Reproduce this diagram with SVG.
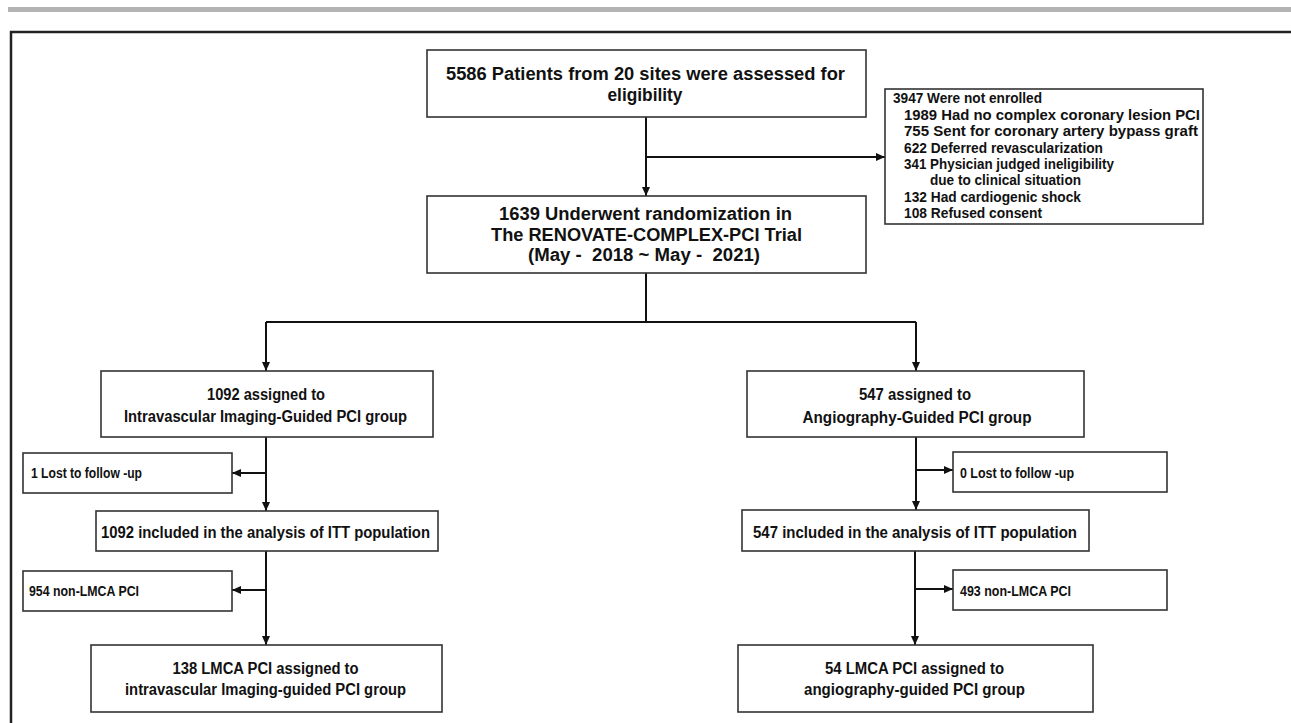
<svg xmlns="http://www.w3.org/2000/svg" width="1291" height="723" viewBox="0 0 1291 723">
<style>
.box{fill:#fff;stroke:#333;stroke-width:1.6}
.t{font-family:"Liberation Sans",Arial,sans-serif;font-weight:bold;fill:#111}
.c{text-anchor:middle}
.f18{font-size:17.5px}
.f16{font-size:16px}
.f14{font-size:14px}
.f13{font-size:14.5px}
.ln{fill:none;stroke:#111;stroke-width:2}
</style>
<defs>
<marker id="ah" markerUnits="userSpaceOnUse" markerWidth="10" markerHeight="10" viewBox="0 0 10 10" refX="9" refY="5" orient="auto">
<path d="M0,1 L9,5 L0,9 Z" fill="#111"/>
</marker>
</defs>
<rect x="8" y="7" width="1283" height="5" fill="#b3b3b3"/>
<rect x="11" y="32" width="1300" height="720" fill="none" stroke="#222" stroke-width="2.5"/>

<g id="connectors">
<path class="ln" d="M646 117 V196" marker-end="url(#ah)"/>
<path class="ln" d="M646 157 H885" marker-end="url(#ah)"/>
<path class="ln" d="M646 273 V322 M266 322 H916"/>
<path class="ln" d="M266 322 V371" marker-end="url(#ah)"/>
<path class="ln" d="M916 322 V371" marker-end="url(#ah)"/>
<path class="ln" d="M266 437 V511" marker-end="url(#ah)"/>
<path class="ln" d="M266 473 H232" marker-end="url(#ah)"/>
<path class="ln" d="M916 437 V510" marker-end="url(#ah)"/>
<path class="ln" d="M916 470 H953" marker-end="url(#ah)"/>
<path class="ln" d="M266 551 V645" marker-end="url(#ah)"/>
<path class="ln" d="M266 590 H232" marker-end="url(#ah)"/>
<path class="ln" d="M915 551 V645" marker-end="url(#ah)"/>
<path class="ln" d="M915 589 H953" marker-end="url(#ah)"/>
</g>

<g id="assessed">
<rect class="box" x="427" y="50" width="439" height="67"/>
<text class="t c f18" x="645.5" y="80" textLength="399" lengthAdjust="spacingAndGlyphs">5586 Patients from 20 sites were assessed for</text>
<text class="t c f18" x="645" y="101" textLength="75" lengthAdjust="spacingAndGlyphs">eligibility</text>
</g>

<g id="excluded">
<rect class="box" x="885" y="89" width="318" height="135"/>
<text class="t f13" x="893" y="103.3" textLength="149" lengthAdjust="spacingAndGlyphs">3947 Were not enrolled</text>
<text class="t f13" x="904" y="119.7" textLength="296" lengthAdjust="spacingAndGlyphs">1989 Had no complex coronary lesion PCI</text>
<text class="t f13" x="904" y="136.1" textLength="294" lengthAdjust="spacingAndGlyphs">755 Sent for coronary artery bypass graft</text>
<text class="t f13" x="904" y="152.5" textLength="199" lengthAdjust="spacingAndGlyphs">622 Deferred revascularization</text>
<text class="t f13" x="904" y="168.9" textLength="210" lengthAdjust="spacingAndGlyphs">341 Physician judged ineligibility</text>
<text class="t f13" x="930" y="185.3" textLength="151" lengthAdjust="spacingAndGlyphs">due to clinical situation</text>
<text class="t f13" x="904" y="201.7" textLength="177" lengthAdjust="spacingAndGlyphs">132 Had cardiogenic shock</text>
<text class="t f13" x="904" y="218.1" textLength="138" lengthAdjust="spacingAndGlyphs">108 Refused consent</text>
</g>

<g id="randomized">
<rect class="box" x="427" y="196" width="439" height="77"/>
<text class="t c f18" x="645.5" y="220" textLength="293" lengthAdjust="spacingAndGlyphs">1639 Underwent randomization in</text>
<text class="t c f18" x="646.5" y="240.5" textLength="311" lengthAdjust="spacingAndGlyphs">The RENOVATE-COMPLEX-PCI Trial</text>
<text class="t c f18" x="644" y="261" textLength="232" lengthAdjust="spacingAndGlyphs" xml:space="preserve">(May -  2018 ~ May -  2021)</text>
</g>

<g id="ivi-assigned">
<rect class="box" x="101" y="371" width="332" height="66"/>
<text class="t c f16" x="266" y="400" textLength="118" lengthAdjust="spacingAndGlyphs">1092 assigned to</text>
<text class="t c f16" x="265.5" y="422" textLength="283" lengthAdjust="spacingAndGlyphs">Intravascular Imaging-Guided PCI group</text>
</g>

<g id="angio-assigned">
<rect class="box" x="747" y="371" width="337" height="66"/>
<text class="t c f16" x="915" y="400" textLength="112" lengthAdjust="spacingAndGlyphs">547 assigned to</text>
<text class="t c f16" x="917" y="422.5" textLength="229" lengthAdjust="spacingAndGlyphs">Angiography-Guided PCI group</text>
</g>

<g id="ivi-lost">
<rect class="box" x="23" y="453" width="209" height="40"/>
<text class="t f14" x="31" y="478" textLength="111" lengthAdjust="spacingAndGlyphs">1 Lost  to follow -up</text>
</g>

<g id="angio-lost">
<rect class="box" x="953" y="452" width="214" height="40"/>
<text class="t f14" x="960" y="478" textLength="114" lengthAdjust="spacingAndGlyphs">0 Lost  to follow -up</text>
</g>

<g id="ivi-itt">
<rect class="box" x="96" y="511" width="342" height="40"/>
<text class="t c f16" x="265.5" y="537.5" textLength="329" lengthAdjust="spacingAndGlyphs">1092 included in the analysis of ITT population</text>
</g>

<g id="angio-itt">
<rect class="box" x="742" y="510" width="347" height="41"/>
<text class="t c f16" x="915" y="537.5" textLength="324" lengthAdjust="spacingAndGlyphs">547 included in the analysis of ITT population</text>
</g>

<g id="ivi-nonlmca">
<rect class="box" x="23" y="571" width="209" height="40"/>
<text class="t f14" x="29" y="596" textLength="110" lengthAdjust="spacingAndGlyphs">954 non-LMCA  PCI</text>
</g>

<g id="angio-nonlmca">
<rect class="box" x="953" y="570" width="214" height="40"/>
<text class="t f14" x="960" y="596" textLength="111" lengthAdjust="spacingAndGlyphs">493 non-LMCA  PCI</text>
</g>

<g id="ivi-lmca">
<rect class="box" x="91" y="645" width="351" height="67"/>
<text class="t c f16" x="265.5" y="673.5" textLength="186" lengthAdjust="spacingAndGlyphs">138 LMCA PCI assigned to</text>
<text class="t c f16" x="265.5" y="695" textLength="281" lengthAdjust="spacingAndGlyphs">intravascular Imaging-guided PCI group</text>
</g>

<g id="angio-lmca">
<rect class="box" x="738" y="645" width="355" height="67"/>
<text class="t c f16" x="914.5" y="673.5" textLength="179" lengthAdjust="spacingAndGlyphs">54 LMCA PCI assigned to</text>
<text class="t c f16" x="914.5" y="695" textLength="221" lengthAdjust="spacingAndGlyphs">angiography-guided PCI group</text>
</g>
</svg>
